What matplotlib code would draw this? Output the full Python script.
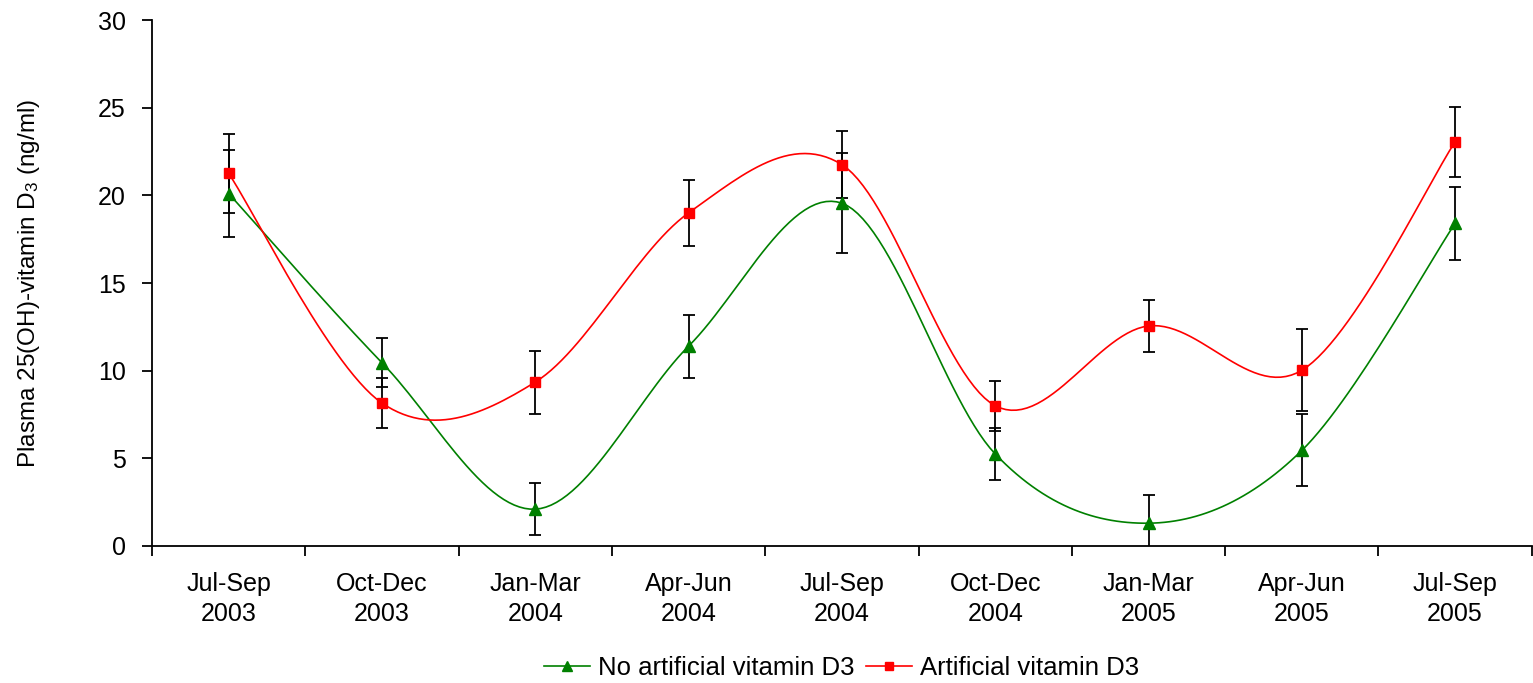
import matplotlib.pyplot as plt
import numpy as np

plt.rcParams['font.family'] = ['Liberation Sans', 'DejaVu Sans']
plt.rcParams['mathtext.default'] = 'regular'

periods = ['Jul-Sep\n2003', 'Oct-Dec\n2003', 'Jan-Mar\n2004', 'Apr-Jun\n2004', 'Jul-Sep\n2004',
           'Oct-Dec\n2004', 'Jan-Mar\n2005', 'Apr-Jun\n2005', 'Jul-Sep\n2005']
no_art = [20.1, 10.45, 2.1, 11.4, 19.55, 5.25, 1.3, 5.45, 18.4]
no_art_err = [2.5, 1.4, 1.5, 1.8, 2.85, 1.48, 1.6, 2.05, 2.1]
art = [21.25, 8.15, 9.35, 19.0, 21.75, 8.0, 12.55, 10.02, 23.05]
art_err = [2.25, 1.43, 1.8, 1.88, 1.9, 1.43, 1.48, 2.34, 2.0]


def smooth(x, y, n=30):
    # excel-like bezier smoothing (catmull-rom control points)
    x = np.asarray(x, float)
    y = np.asarray(y, float)
    px = np.concatenate([[x[0]], x, [x[-1]]])
    py = np.concatenate([[y[0]], y, [y[-1]]])
    xs, ys = [], []
    t = np.linspace(0, 1, n)
    for i in range(1, len(px) - 2):
        p0 = np.array([px[i], py[i]])
        p3 = np.array([px[i + 1], py[i + 1]])
        c1 = p0 + (np.array([px[i + 1], py[i + 1]]) - np.array([px[i - 1], py[i - 1]])) / 6
        c2 = p3 - (np.array([px[i + 2], py[i + 2]]) - np.array([px[i], py[i]])) / 6
        b = ((1 - t) ** 3)[:, None] * p0 + (3 * (1 - t) ** 2 * t)[:, None] * c1 \
            + (3 * (1 - t) * t ** 2)[:, None] * c2 + (t ** 3)[:, None] * p3
        xs.extend(b[:, 0])
        ys.extend(b[:, 1])
    return xs, ys


fig = plt.figure(figsize=(15.33, 6.83), dpi=100)
ax = fig.add_axes([0.0992, 0.2006, 0.9, 0.7701])

X = np.arange(len(periods))

ax.errorbar(X, no_art, yerr=no_art_err, fmt='none', ecolor='black', elinewidth=1.3, capsize=4.5, capthick=1.3, zorder=2)
ax.errorbar(X, art, yerr=art_err, fmt='none', ecolor='black', elinewidth=1.3, capsize=4.5, capthick=1.3, zorder=2)

sx, sy = smooth(X, no_art)
ax.plot(sx, sy, color='#008000', lw=1.2, zorder=3)
sx, sy = smooth(X, art)
ax.plot(sx, sy, color='#FF0000', lw=1.2, zorder=3)
ax.plot(X, no_art, ls='none', marker='^', color='#008000', ms=8.5, zorder=4)
ax.plot(X, art, ls='none', marker='s', color='#FF0000', ms=7, zorder=4)

# legend handles
ax.plot([], [], color='#008000', lw=1.2, marker='^', ms=7, label='No artificial vitamin D3')
ax.plot([], [], color='#FF0000', lw=1.2, marker='s', ms=6, label='Artificial vitamin D3')

ax.set_xlim(-0.5, len(periods) - 0.5)
ax.set_ylim(0, 30)
ax.set_yticks(range(0, 31, 5))
ax.set_xticks(X)
ax.set_xticklabels(periods, fontsize=18, linespacing=1.3)
ax.set_xticks(np.arange(-0.5, len(periods), 1), minor=True)
ax.tick_params(axis='x', which='major', length=0, pad=19)
ax.tick_params(axis='x', which='minor', length=7, width=1.3, direction='out')
ax.tick_params(axis='y', length=7, width=1.3, direction='out', labelsize=18, pad=12)

ax.spines['top'].set_visible(False)
ax.spines['right'].set_visible(False)
ax.spines['left'].set_linewidth(1.3)
ax.spines['bottom'].set_linewidth(1.3)

ax.set_ylabel('Plasma 25(OH)-vitamin D$_{3}$ (ng/ml)', fontsize=17.5, labelpad=40)

fig.legend(loc='center', bbox_to_anchor=(0.549, 0.022), ncol=2, frameon=False, fontsize=18.5,
           handlelength=1.8, handletextpad=0.3, columnspacing=0.45)

fig.savefig('out.png', dpi=100)
